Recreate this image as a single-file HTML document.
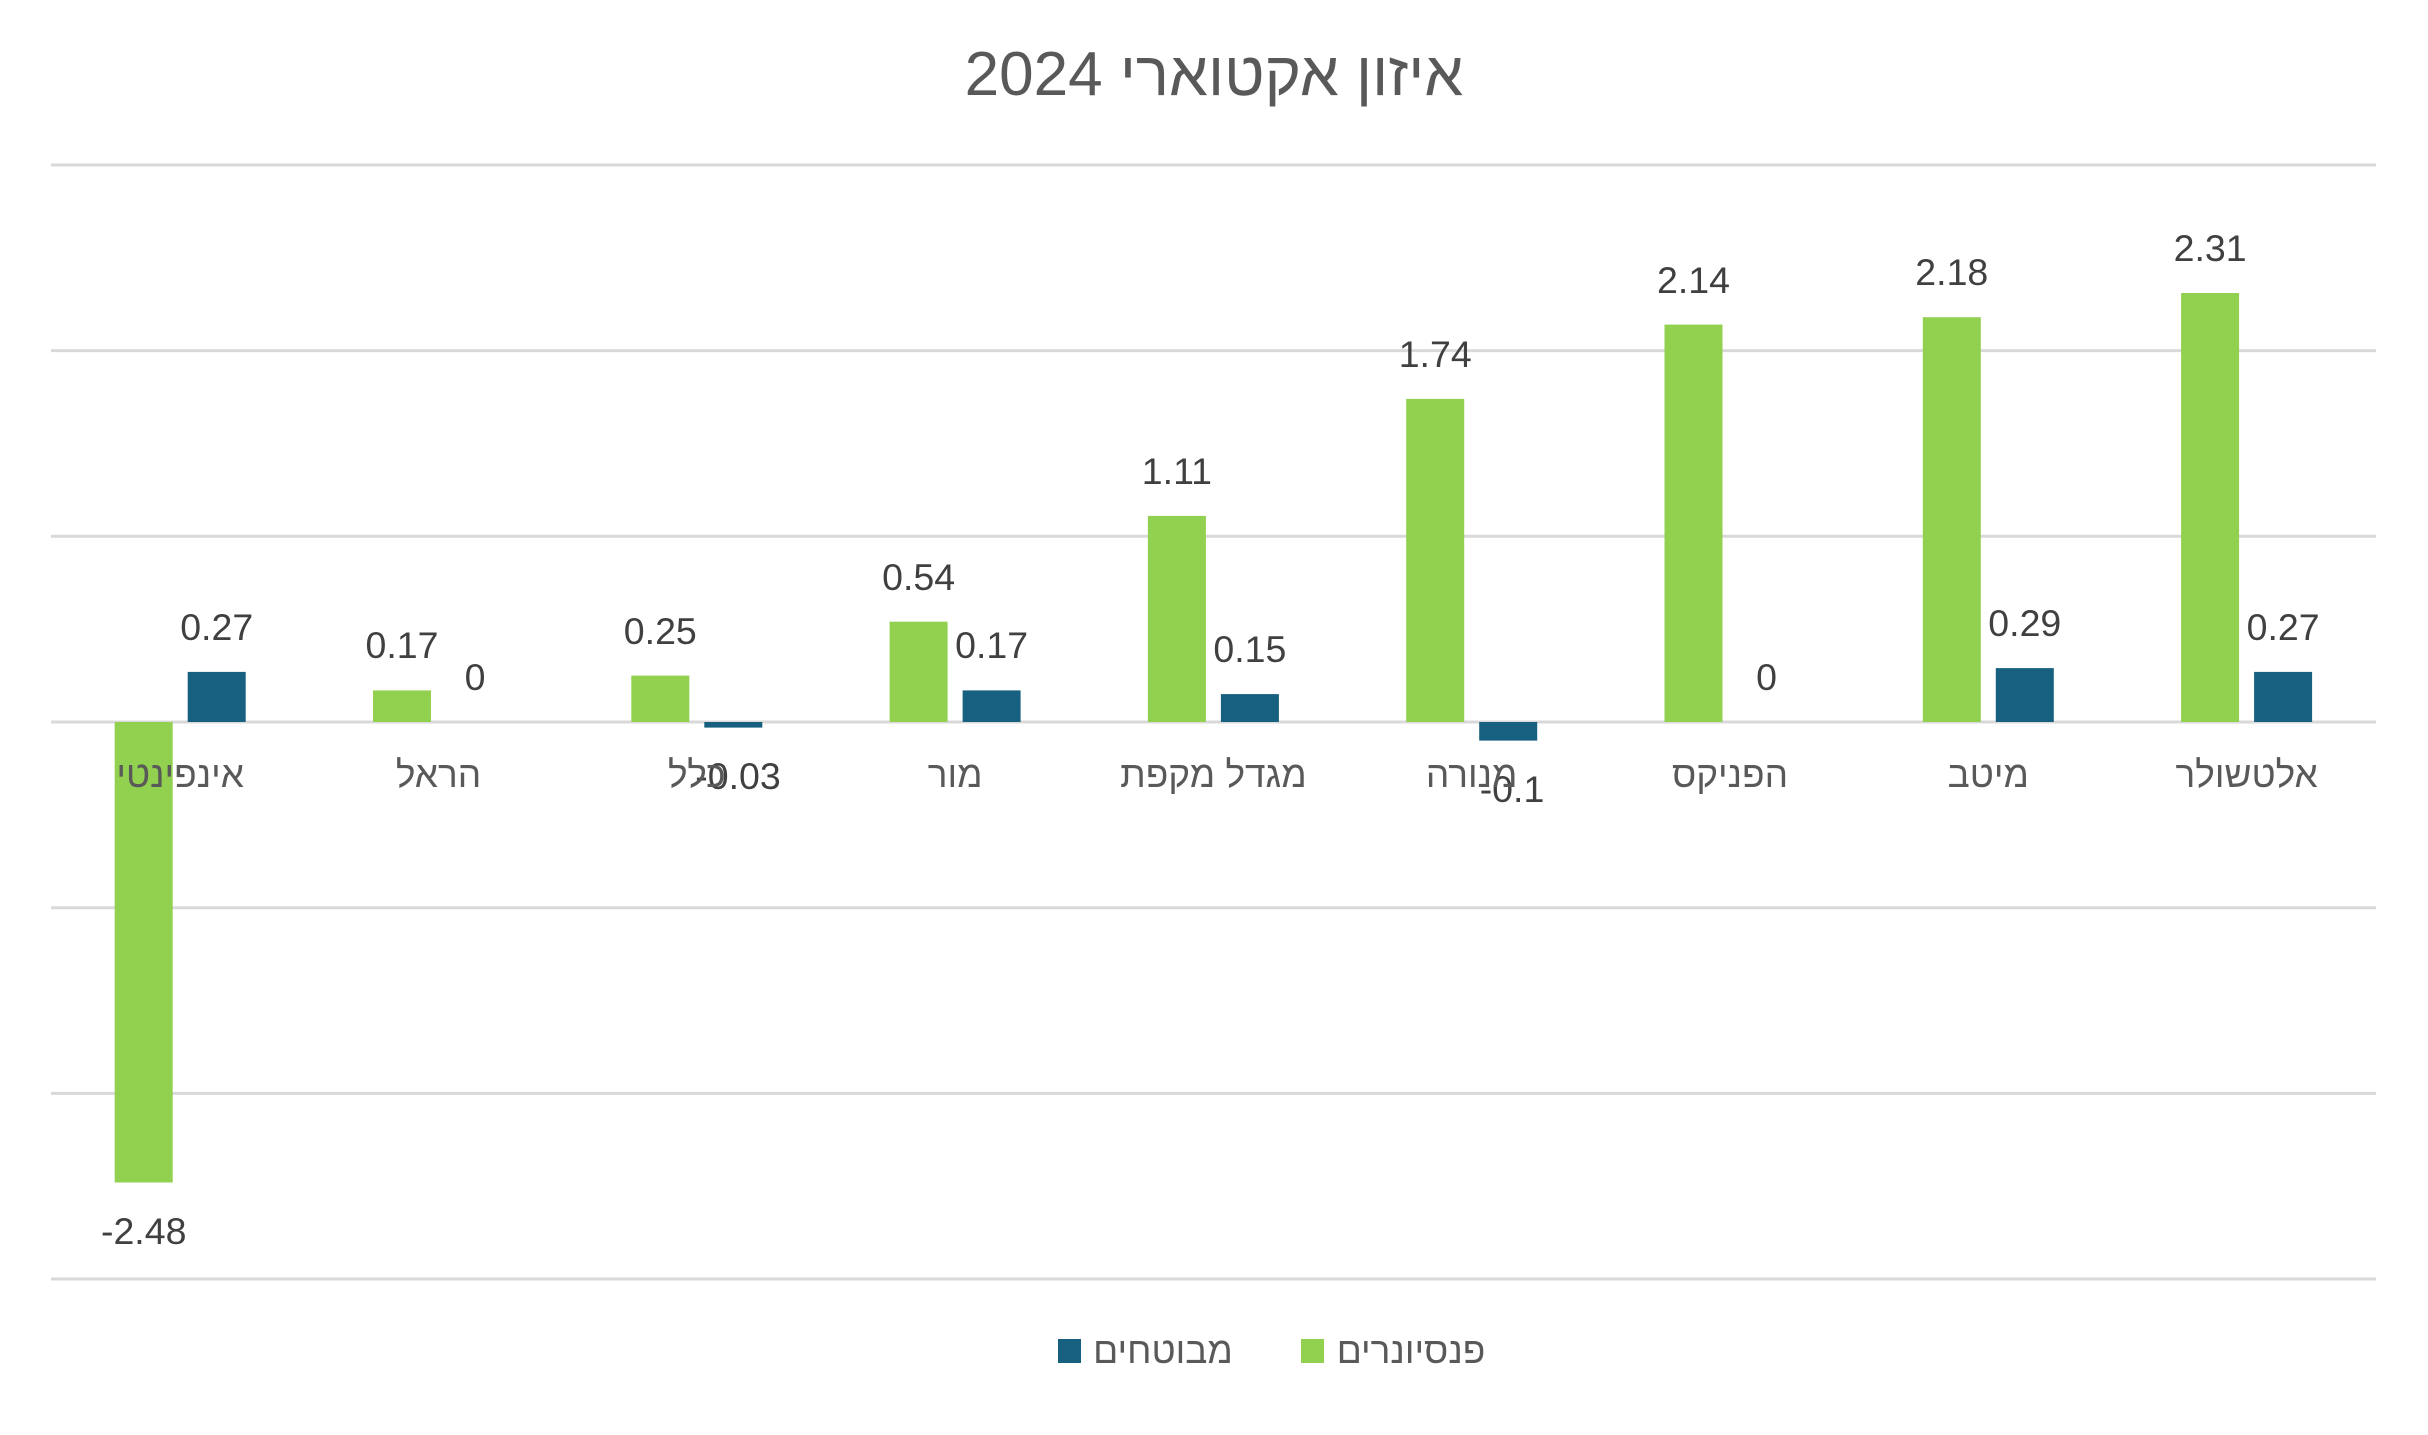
<!DOCTYPE html>
<html><head><meta charset="utf-8"><style>html,body{margin:0;padding:0;background:#fff}svg{display:block}</style></head>
<body>
<svg width="2428" height="1435" viewBox="0 0 2428 1435" xmlns="http://www.w3.org/2000/svg" font-family="Liberation Sans, DejaVu Sans, sans-serif">
<rect width="2428" height="1435" fill="#fff"/>
<text x="1214" y="95" text-anchor="middle" font-size="62" fill="#595959">איזון אקטוארי 2024</text>
<g stroke="#d9d9d9" stroke-width="3">
<line x1="51" x2="2376" y1="165" y2="165"/>
<line x1="51" x2="2376" y1="350.6" y2="350.6"/>
<line x1="51" x2="2376" y1="536.3" y2="536.3"/>
<line x1="51" x2="2376" y1="722" y2="722"/>
<line x1="51" x2="2376" y1="907.7" y2="907.7"/>
<line x1="51" x2="2376" y1="1093.4" y2="1093.4"/>
<line x1="51" x2="2376" y1="1279" y2="1279"/>
</g>
<g fill="#92d050">
<rect x="114.7" y="722" width="58" height="460.5"/>
<rect x="373" y="690.4" width="58" height="31.6"/>
<rect x="631.3" y="675.6" width="58" height="46.4"/>
<rect x="889.6" y="621.7" width="58" height="100.3"/>
<rect x="1147.9" y="515.9" width="58" height="206.1"/>
<rect x="1406.2" y="398.9" width="58" height="323.1"/>
<rect x="1664.5" y="324.6" width="58" height="397.4"/>
<rect x="1922.8" y="317.2" width="58" height="404.8"/>
<rect x="2181.1" y="293" width="58" height="429"/>
</g>
<g fill="#17607f">
<rect x="187.7" y="671.9" width="58" height="50.1"/>
<rect x="704.3" y="722" width="58" height="5.6"/>
<rect x="962.6" y="690.4" width="58" height="31.6"/>
<rect x="1220.9" y="694.1" width="58" height="27.9"/>
<rect x="1479.2" y="722" width="58" height="18.6"/>
<rect x="1995.8" y="668.1" width="58" height="53.9"/>
<rect x="2254.1" y="671.9" width="58" height="50.1"/>
</g>
<g font-size="37.5" fill="#404040" text-anchor="middle">
<text x="143.7" y="1244">-2.48</text>
<text x="402" y="658">0.17</text>
<text x="660.3" y="644">0.25</text>
<text x="918.6" y="590">0.54</text>
<text x="1176.9" y="484">1.11</text>
<text x="1435.2" y="367">1.74</text>
<text x="1693.5" y="293">2.14</text>
<text x="1951.8" y="285">2.18</text>
<text x="2210.1" y="261">2.31</text>
<text x="216.7" y="640">0.27</text>
<text x="475" y="690">0</text>
<text x="738" y="789">-0.03</text>
<text x="1512" y="802">-0.1</text>
<text x="991.6" y="658">0.17</text>
<text x="1249.9" y="662">0.15</text>
<text x="1766.5" y="690">0</text>
<text x="2024.8" y="636">0.29</text>
<text x="2283.1" y="640">0.27</text>
</g>
<g font-size="37" fill="#595959" text-anchor="middle">
<text x="180.2" y="787">אינפינטי</text>
<text x="438.5" y="787">הראל</text>
<text x="696.8" y="787">כלל</text>
<text x="955.1" y="787">מור</text>
<text x="1213.4" y="787">מגדל מקפת</text>
<text x="1471.7" y="787">מנורה</text>
<text x="1730" y="787">הפניקס</text>
<text x="1988.3" y="787">מיטב</text>
<text x="2246.6" y="787">אלטשולר</text>
</g>
<rect x="1058" y="1339" width="23" height="24" fill="#17607f"/>
<text x="1163" y="1363" font-size="37" fill="#595959" text-anchor="middle">מבוטחים</text>
<rect x="1301" y="1339" width="23" height="24" fill="#92d050"/>
<text x="1411" y="1363" font-size="37" fill="#595959" text-anchor="middle">פנסיונרים</text>
</svg>
</body></html>
